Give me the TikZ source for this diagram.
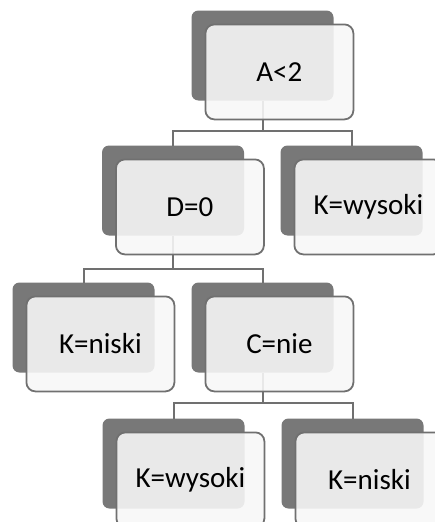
\documentclass[tikz,border=0pt]{standalone}
\usepackage{fontspec}
\setmainfont{Carlito}
\usetikzlibrary{positioning}
\definecolor{backgray}{RGB}{120,120,120}
\definecolor{linegray}{RGB}{112,112,112}
\definecolor{frontgray}{RGB}{247,247,247}

\begin{document}
\begin{tikzpicture}[x=1pt, y=1pt,
  backbox/.style={rectangle, rounded corners=7pt, fill=backgray, minimum width=142pt, minimum height=90pt, inner sep=0pt, outer sep=0pt},
  frontbox/.style={rectangle, rounded corners=9pt, draw=linegray, line width=1.8pt, fill=frontgray, fill opacity=0.89, text opacity=1, minimum width=148pt, minimum height=95pt, inner sep=0pt, font=\fontsize{29}{32}\selectfont},
  link/.style={draw=linegray, line width=2pt}]
  \useasboundingbox (0,0) rectangle (434,-522);
  % back boxes
  \node[backbox]   (bA)   at (262.5,-55.5)                       {};
  \node[backbox]   (bD)   [below=45pt of bA, xshift=-89.5pt]     {};
  \node[backbox]   (bKw1) [right=36.5pt of bD]                   {};
  \node[backbox]   (bKn1) [below=47pt of bD, xshift=-89.5pt]     {};
  \node[backbox]   (bC)   [right=37pt of bKn1]                   {};
  \node[backbox]   (bKw2) [below=46pt of bC, xshift=-89pt]       {};
  \node[backbox]   (bKn2) [right=37pt of bKw2]                   {};
  % connectors
  \draw[link] (bA.south) |- ([yshift=15pt]bD.north) -- (bD.north);
  \draw[link] (bA.south) |- ([yshift=15pt]bKw1.north) -- (bKw1.north);
  \draw[link] (bD.south) |- ([yshift=14pt]bKn1.north) -- (bKn1.north);
  \draw[link] (bD.south) |- ([yshift=14pt]bC.north) -- (bC.north);
  \draw[link] (bC.south) |- ([yshift=16pt]bKw2.north) -- (bKw2.north);
  \draw[link] (bC.south) |- ([yshift=16pt]bKn2.north) -- (bKn2.north);
  % front boxes
  \node[frontbox]  (A)    [below right=13pt and 13pt of bA.north west]   {A<2};
  \node[frontbox]  (D)    [below right=13pt and 13pt of bD.north west]   {D=0};
  \node[frontbox]  (Kw1)  [below right=13pt and 13pt of bKw1.north west] {K=wysoki};
  \node[frontbox]  (Kn1)  [below right=13pt and 13pt of bKn1.north west] {K=niski};
  \node[frontbox]  (C)    [below right=13pt and 13pt of bC.north west]   {C=nie};
  \node[frontbox]  (Kw2)  [below right=13pt and 13pt of bKw2.north west] {K=wysoki};
  \node[frontbox]  (Kn2)  [below right=13pt and 13pt of bKn2.north west] {K=niski};
\end{tikzpicture}
\end{document}
